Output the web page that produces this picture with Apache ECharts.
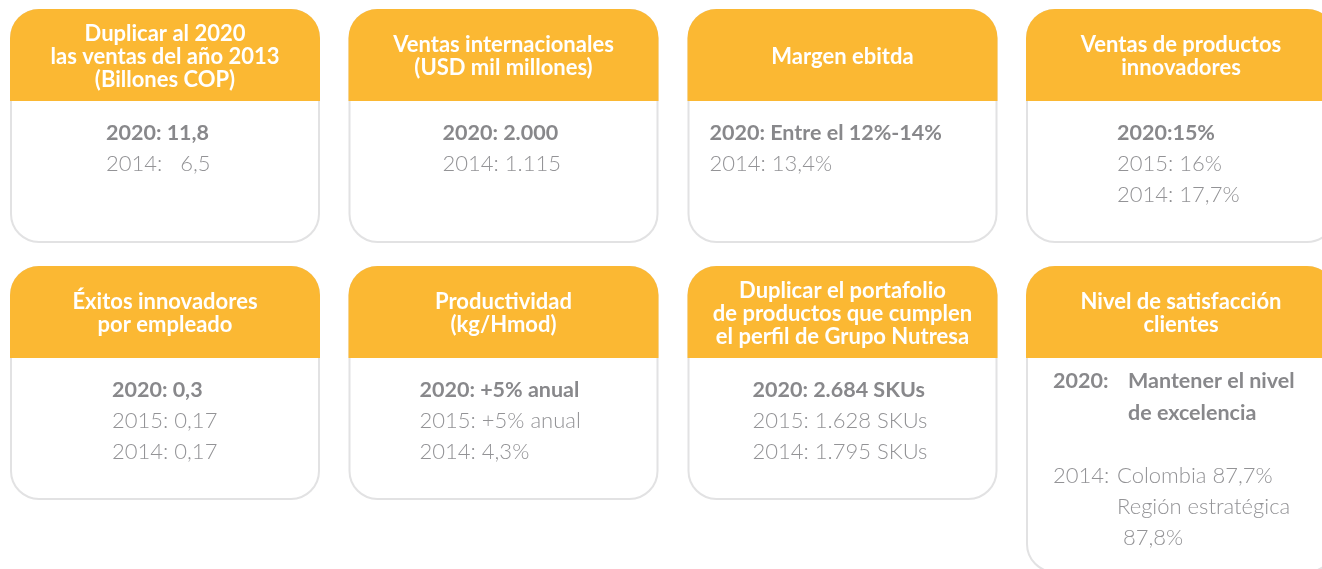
<!DOCTYPE html>
<html>
<head>
<meta charset="utf-8">
<script src="https://cdn.jsdelivr.net/npm/echarts@6/dist/echarts.min.js"></script>
<style>
html,body{margin:0;padding:0;background:#fff;}
#chart{width:1322px;height:569px;}
</style>
</head>
<body>
<div id="chart"></div>
<script>
// ---- data ----
const titles = [
  "Duplicar al 2020\nlas ventas del año 2013\n(Billones COP)",
  "Ventas internacionales\n(USD mil millones)",
  "Margen ebitda",
  "Ventas de productos\ninnovadores",
  "Éxitos innovadores\npor empleado",
  "Productividad\n(kg/Hmod)",
  "Duplicar el portafolio\nde productos que cumplen\nel perfil de Grupo Nutresa",
  "Nivel de satisfacción\nclientes"
];
const goals2020 = [
  "2020: 11,8",
  "2020: 2.000",
  "2020: Entre el 12%-14%",
  "2020:15%",
  "2020: 0,3",
  "2020: +5% anual",
  "2020: 2.684 SKUs",
  null
];
const results2015 = [null, null, null, "2015: 16%", "2015: 0,17", "2015: +5% anual", "2015: 1.628 SKUs", null];
const results2014 = ["2014:   6,5", "2014: 1.115", "2014: 13,4%", "2014: 17,7%", "2014: 0,17", "2014: 4,3%", "2014: 1.795 SKUs", null];
// special card (satisfaction)
const satisfactionGoalLabel = "2020:";
const satisfactionGoal = ["Mantener el nivel", "de excelencia"];
const satisfaction2014Label = "2014:";
const satisfaction2014 = ["Colombia 87,7%", "Región estratégica", " 87,8%"];

// ---- layout ----
const colX = [11, 349.5, 688.5, 1027];
const rowY = [10, 267];
const cardW = 308, headerH = 91, cardH = 232, lastCardH = 305;
const textOffsetX = [95, 93, 21, 90, 101, 70, 64, 26];
const R = 28;
const YELLOW = '#FBB833', BORDER = '#e2e2e3', BOLD = '#88888b', LIGHT = '#939396';
const FONT = 'Lato, "Open Sans", sans-serif';
const HFONT = 'bold 22px ' + FONT;
const BFONT = 'bold 21.5px ' + FONT;
const LFONT = '300 22px ' + FONT;

const elements = [];
function txt(text, x, y, font, fill) {
  elements.push({type: 'text', style: {text: text, x: x, y: y, fill: fill,
    font: font, textAlign: 'left', textVerticalAlign: 'middle'}});
}
titles.forEach((t, i) => {
  const col = i % 4, row = Math.floor(i / 4);
  const x = colX[col], y = rowY[row];
  const h = (i === 7) ? lastCardH : cardH;
  elements.push({
    type: 'rect', shape: {x: x, y: y, width: cardW, height: h, r: R},
    style: {fill: '#fff', stroke: BORDER, lineWidth: 2}
  });
  elements.push({
    type: 'rect', shape: {x: x - 1, y: y - 1, width: cardW + 2, height: headerH + 1, r: [R + 1, R + 1, 0, 0]},
    style: {fill: YELLOW}
  });
  elements.push({
    type: 'text',
    style: {text: t, x: x + cardW / 2, y: y + headerH / 2 + 1, fill: '#fff',
      font: HFONT, textAlign: 'center', textVerticalAlign: 'middle', lineHeight: 23}
  });
  const tx = x + textOffsetX[i];
  let ly = y + headerH + 32;
  if (goals2020[i]) {
    txt(goals2020[i], tx, ly, BFONT, BOLD);
    ly += 31;
    if (results2015[i]) { txt(results2015[i], tx, ly, LFONT, LIGHT); ly += 31; }
    if (results2014[i]) { txt(results2014[i], tx, ly, LFONT, LIGHT); }
  } else {
    const gy = y + headerH + 23;
    txt(satisfactionGoalLabel, tx, gy, BFONT, BOLD);
    satisfactionGoal.forEach((s, k) => txt(s, tx + 75, gy + k * 32, BFONT, BOLD));
    const sy = gy + 95;
    txt(satisfaction2014Label, tx, sy, LFONT, LIGHT);
    satisfaction2014.forEach((s, k) => txt(s, tx + 64, sy + k * 31, LFONT, LIGHT));
  }
});

const chart = echarts.init(document.getElementById('chart'));
chart.setOption({
  backgroundColor: '#fff',
  animation: false,
  graphic: {elements: elements}
});
</script>
</body>
</html>
